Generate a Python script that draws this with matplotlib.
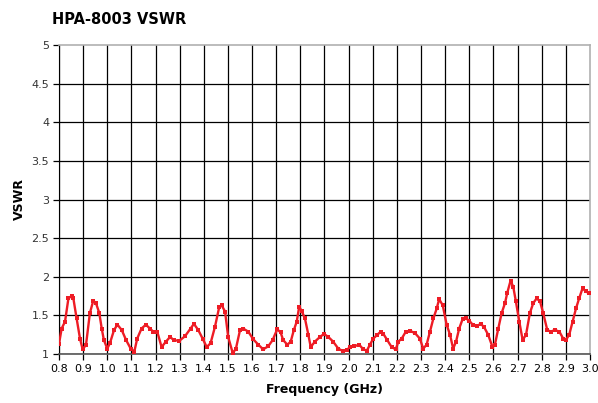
import matplotlib
matplotlib.use("Agg")
import matplotlib.pyplot as plt
import numpy as np

freq = [0.800, 0.811, 0.825, 0.839, 0.852, 0.859, 0.873, 0.887, 0.898, 0.912,
        0.928, 0.942, 0.953, 0.967, 0.977, 0.986, 1.000, 1.011, 1.028, 1.042,
        1.060, 1.078, 1.097, 1.112, 1.124, 1.142, 1.160, 1.177, 1.190, 1.207,
        1.225, 1.243, 1.260, 1.276, 1.298, 1.322, 1.345, 1.359, 1.377, 1.395,
        1.412, 1.428, 1.446, 1.464, 1.474, 1.488, 1.501, 1.520, 1.533, 1.550,
        1.563, 1.584, 1.605, 1.626, 1.646, 1.667, 1.685, 1.704, 1.718, 1.729,
        1.746, 1.760, 1.773, 1.785, 1.795, 1.805, 1.819, 1.833, 1.843, 1.860,
        1.881, 1.898, 1.916, 1.936, 1.957, 1.975, 1.992, 2.005, 2.022, 2.044,
        2.058, 2.075, 2.088, 2.102, 2.119, 2.133, 2.144, 2.160, 2.178, 2.195,
        2.206, 2.220, 2.237, 2.254, 2.275, 2.295, 2.309, 2.323, 2.337, 2.351,
        2.365, 2.375, 2.390, 2.406, 2.420, 2.433, 2.445, 2.458, 2.472, 2.486,
        2.500, 2.514, 2.530, 2.547, 2.561, 2.578, 2.596, 2.606, 2.620, 2.634,
        2.648, 2.657, 2.671, 2.682, 2.693, 2.707, 2.721, 2.735, 2.751, 2.765,
        2.779, 2.793, 2.806, 2.823, 2.837, 2.855, 2.873, 2.889, 2.900, 2.914,
        2.928, 2.942, 2.955, 2.969, 2.983, 2.994]
vswr = [1.13, 1.33, 1.42, 1.72, 1.75, 1.73, 1.46, 1.20, 1.06, 1.12,
        1.53, 1.69, 1.66, 1.53, 1.33, 1.18, 1.07, 1.14, 1.31, 1.38,
        1.31, 1.18, 1.07, 1.03, 1.20, 1.33, 1.38, 1.33, 1.29, 1.29,
        1.09, 1.16, 1.22, 1.18, 1.17, 1.23, 1.33, 1.39, 1.31, 1.20,
        1.09, 1.14, 1.35, 1.61, 1.63, 1.55, 1.22, 1.01, 1.07, 1.31,
        1.33, 1.29, 1.19, 1.12, 1.06, 1.10, 1.18, 1.32, 1.28, 1.18,
        1.12, 1.16, 1.31, 1.42, 1.61, 1.56, 1.46, 1.25, 1.09, 1.16,
        1.22, 1.26, 1.22, 1.16, 1.07, 1.04, 1.05, 1.09, 1.10, 1.12,
        1.07, 1.04, 1.12, 1.20, 1.25, 1.29, 1.26, 1.18, 1.09, 1.06,
        1.16, 1.20, 1.29, 1.30, 1.27, 1.20, 1.07, 1.12, 1.29, 1.46,
        1.59, 1.71, 1.63, 1.38, 1.25, 1.07, 1.16, 1.33, 1.45, 1.46,
        1.43, 1.38, 1.36, 1.39, 1.35, 1.25, 1.09, 1.12, 1.33, 1.53,
        1.66, 1.79, 1.95, 1.87, 1.68, 1.42, 1.18, 1.25, 1.53, 1.66,
        1.72, 1.68, 1.53, 1.31, 1.29, 1.31, 1.29, 1.20, 1.18, 1.25,
        1.42, 1.59, 1.72, 1.85, 1.81, 1.79]

xticks = [round(0.8 + 0.1 * i, 1) for i in range(23)]
yticks = [1, 1.5, 2, 2.5, 3, 3.5, 4, 4.5, 5]
ytick_labels = ["1", "1.5", "2", "2.5", "3", "3.5", "4", "4.5", "5"]

fig = plt.figure(figsize=(5.98, 4.03), dpi=100)
ax = fig.add_axes([59/598, 49/403, 531/598, 309/403])

ax.plot(freq, vswr, color="#ee1c25", lw=1.7, marker="s", ms=2.2,
        markeredgewidth=0, zorder=3, solid_joinstyle="round")

ax.set_xlim(0.8, 3.0)
ax.set_ylim(1, 5)
ax.set_xticks(xticks)
ax.set_xticklabels([f"{v:.1f}" for v in xticks], fontsize=8)
ax.set_yticks(yticks)
ax.set_yticklabels(ytick_labels, fontsize=8, color="#333333")
ax.grid(True, color="black", lw=0.9, zorder=1)
ax.set_axisbelow(True)
# boundary gridlines are covered by the light frame
ax.get_ygridlines()[-1].set_visible(False)
ax.get_xgridlines()[-1].set_visible(False)

for s in ["top", "right"]:
    ax.spines[s].set_color("#b0b0b0")
    ax.spines[s].set_linewidth(1.2)
ax.spines["left"].set_color("black")
ax.spines["bottom"].set_color("#555555")
ax.spines["bottom"].set_linewidth(1.2)
ax.tick_params(axis="both", length=4, width=0.9, color="black", pad=3)

ax.set_xlabel("Frequency (GHz)", fontsize=9, fontweight="bold", labelpad=7)
ax.set_ylabel("VSWR", fontsize=9, fontweight="bold", labelpad=4)
fig.text(52/598, 1 - 20/403, "HPA-8003 VSWR", fontsize=10.5, fontweight="bold",
         va="center", ha="left")

fig.savefig("out.png", dpi=100)
